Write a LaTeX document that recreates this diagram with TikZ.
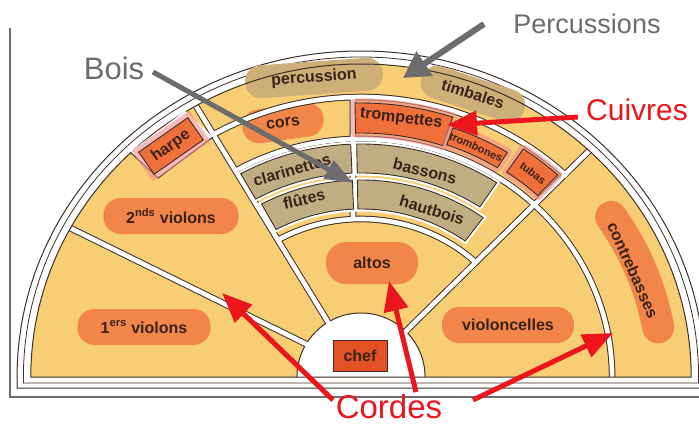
\documentclass[tikz,border=0pt]{standalone}
\usepackage{fontspec}
\setmainfont{Liberation Sans}
\usetikzlibrary{arrows.meta}
\definecolor{yel}{RGB}{248,206,116}
\definecolor{blobc}{RGB}{242,134,74}
\definecolor{boxor}{RGB}{240,112,60}
\definecolor{chefc}{RGB}{226,82,38}
\definecolor{woodc}{RGB}{192,174,130}
\definecolor{percc}{RGB}{204,176,120}
\definecolor{ink}{RGB}{58,34,24}
\definecolor{edge}{RGB}{60,48,40}
\definecolor{glowc}{RGB}{240,140,140}
\definecolor{annog}{RGB}{108,108,108}
\definecolor{annor}{RGB}{234,22,28}
\definecolor{framec}{RGB}{110,110,110}
\newcommand\dividerpath{(147:55) -- (151.6:313) (119.6:55) -- (120:313) (47.3:55) -- (46.3:313)
  (120:280) arc[start angle=120,end angle=45.8,radius=280]
  (120:238) arc[start angle=120,end angle=0,radius=238]
  (120:158) arc[start angle=120,end angle=46.5,radius=158]
  (-7.6,280) -- (-7.6,160)}
\newcommand\sect[5][]{\path[#1] (#2:#5) arc[start angle=#2,end angle=#3,radius=#5] -- (#3:#4) arc[start angle=#3,end angle=#2,radius=#4] -- cycle;}
\begin{document}
\begin{tikzpicture}[x=1pt,y=-1pt,
  labf/.style={font=\bfseries\fontsize{16}{16}\selectfont, text=ink},
  lab/.style={labf, inner sep=0pt},
  small/.style={font=\bfseries\fontsize{11}{11}\selectfont, text=ink, inner sep=0pt},
  blob/.style={fill=blobc, rounded corners=17pt, minimum height=36pt, inner sep=0pt, labf},
  pblob/.style={fill=percc, rounded corners=16pt, minimum height=33pt, inner sep=0pt, labf},
  wall/.style={draw=edge, line width=6.6},
  wallin/.style={draw=white, line width=4.6},
  halo/.style={draw=white, line width=5},
  woodp/.style={fill=woodc, draw=edge, line width=0.9},
  brass/.style={fill=boxor, draw=edge, line width=0.9, preaction={draw=glowc, line width=9, draw opacity=0.6, line join=round}},
  garrow/.style={draw=annog, line width=6, -{Triangle[length=26pt,width=28pt]}},
  rarrow/.style={draw=annor, line width=5, -{Triangle[length=30pt,width=24pt]}},
  note/.style={inner sep=0pt},
]
\useasboundingbox (0,0) rectangle (699,425);
\fill[white] (0,0) rectangle (699,425);
\draw[framec, line width=1.3] (10,28) -- (10,397) -- (699,397);

\begin{scope}[shift={(361,377)}, x=1.055pt, y=1pt]
  \draw[edge, line width=1, fill=white] (-326,-11) -- (-326,0) arc[start angle=180,end angle=0,radius=326] -- (326,-11) -- cycle;
  \draw[edge, line width=0.8] (-320,-6) -- (-320,0) arc[start angle=180,end angle=0,radius=320] -- (320,-6) -- cycle;
  \fill[yel] (-313,0) arc[start angle=180,end angle=0,radius=313] -- cycle;
  \draw[blobc, line width=32, line cap=round] (34:286) arc[start angle=34,end angle=10,radius=286];
\end{scope}

% coloured blobs with their labels
\node[blob, minimum width=135pt] (v2) at (171,216) {2\textsuperscript{nds} violons};
\node[blob, minimum width=133pt] (v1) at (144,327) {1\textsuperscript{ers} violons};
\node[blob, minimum width=92pt, minimum height=42pt, rounded corners=20pt] (altos) at (372,263) {altos};
\node[blob, minimum width=132pt] (vcl) at (508,325) {violoncelles};
\node[pblob, minimum width=138pt, rotate=4] (perc) at (314,78) {percussion};
\node[pblob, minimum width=108pt, rotate=-18] (timb) at (473,94) {timbales};
\node[blob, minimum width=82pt, minimum height=34pt, rotate=8] (cors) at (283,123) {cors};

\begin{scope}[shift={(361,377)}, x=1.055pt, y=1pt]
  \draw[wall] \dividerpath;
  \fill[white] (-60.7,0) arc[start angle=180,end angle=0,x radius=60.7,y radius=64] -- cycle;
  \draw[edge, line width=1] (-60.7,0) arc[start angle=180,end angle=0,x radius=60.7,y radius=64];
  \draw[wallin] \dividerpath;
  \draw[edge, line width=1] (-313,0) arc[start angle=180,end angle=0,radius=313] -- cycle;
  % woodwind panels
  \sect[halo]{92.4}{119.3}{204}{233}
  \sect[halo]{92.4}{118.6}{168}{197}
  \sect[halo]{56.5}{91}{204}{233}
  \sect[halo]{54}{91}{168}{197}
  \sect[woodp]{92.4}{119.3}{204}{233}
  \sect[woodp]{92.4}{118.6}{168}{197}
  \sect[woodp]{56.5}{91}{204}{233}
  \sect[woodp]{54}{91}{168}{197}
  % brass boxes
  \sect[brass]{71.5}{91.2}{244}{274}
  \sect[brass]{58.3}{70.7}{246}{264}
  \sect[brass]{47.3}{56}{247}{275}
\end{scope}

% harp notch
\fill[white] (130,152) -- (158,178) -- (213,137) -- (185,111) -- cycle;
\draw[edge, line width=1] (130,152) -- (158,178) -- (213,137);
\node[draw=edge, fill=boxor, line width=0.9, minimum width=60pt, minimum height=27pt, rotate=35, labf, inner sep=0pt,
  preaction={draw=glowc, line width=10, draw opacity=0.6}] (harpe) at (171,146) {harpe};

% chef
\node[draw=edge, fill=chefc, line width=1, minimum width=54pt, minimum height=31pt, labf, inner sep=0pt] (chef) at (360,356) {chef};

% labels on panels
\node[lab, rotate=-7] (tromp) at (401,119) {trompettes};
\node[small, rotate=-24] (tromb) at (476,147) {trombones};
\node[small, rotate=-38] (tubas) at (533,173) {tubas};
\node[lab, rotate=16] (clar) at (292,170) {clarinettes};
\node[lab, rotate=13] (flut) at (304,199) {flûtes};
\node[lab, rotate=-14] (bass) at (425,171) {bassons};
\node[lab, rotate=-17] (hautb) at (432,210) {hautbois};
\node[lab, rotate=-66] (cb) at (633,270) {contrebasses};

% annotations
\node[note, text=annog, font=\fontsize{27}{27}\selectfont] (tPerc) at (587,24) {Percussions};
\node[note, text=annog, font=\fontsize{31}{31}\selectfont] (tBois) at (114,68) {Bois};
\node[note, text=annor, font=\fontsize{30}{30}\selectfont] (tCuiv) at (637,110) {Cuivres};
\node[note, text=annor, font=\fontsize{33}{33}\selectfont] (tCord) at (389,407) {Cordes};

\coordinate (pA) at (484,24);  \coordinate (pB) at (403,78);
\coordinate (bA) at (153,72);  \coordinate (bB) at (353,183);
\coordinate (cA) at (578,117); \coordinate (cB) at (447,125);
\coordinate (k1A) at (333,400); \coordinate (k1B) at (222,293);
\coordinate (k2A) at (416,392); \coordinate (k2B) at (389,281);
\coordinate (k3A) at (473,400); \coordinate (k3B) at (613,333);

\draw[garrow] (pA) -- (pB);
\draw[garrow, line width=5, -{Triangle[length=28pt,width=20pt]}] (bA) -- (bB);
\draw[rarrow] (cA) -- (cB);
\draw[rarrow] (k1A) -- (k1B);
\draw[rarrow] (k2A) -- (k2B);
\draw[rarrow] (k3A) -- (k3B);
\end{tikzpicture}
\end{document}
